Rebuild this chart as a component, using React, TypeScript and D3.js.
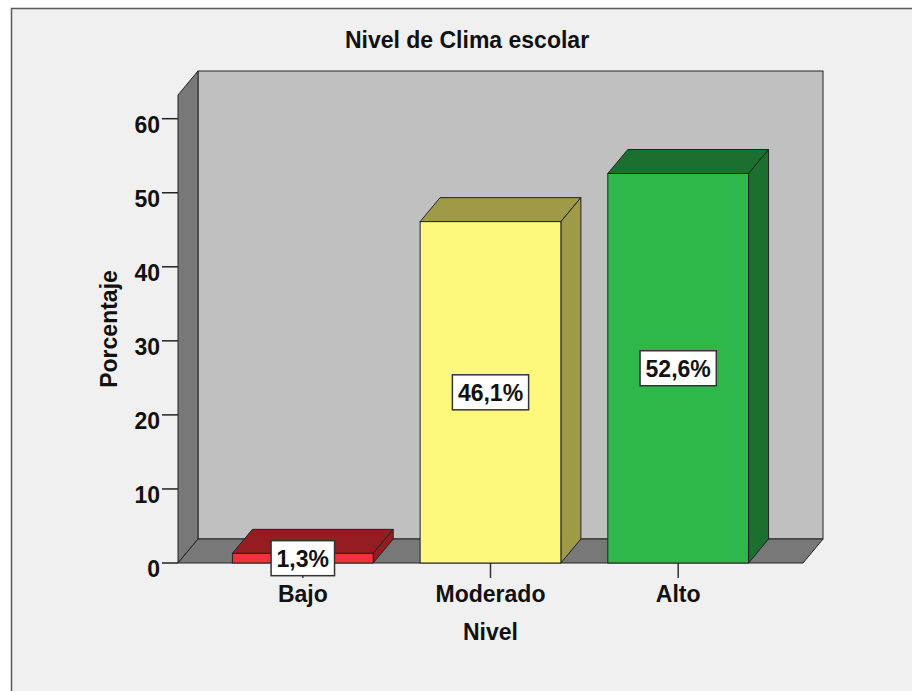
import React, { useEffect, useRef } from "react";
import * as d3 from "d3";

const categories = ["Bajo", "Moderado", "Alto"];
const values = [1.3, 46.1, 52.6];
const valueLabels = ["1,3%", "46,1%", "52,6%"];
const frontColors = ["#f0333a", "#fdf87b", "#2eb84b"];
const darkColors = ["#951d21", "#9f9a48", "#1b702f"];
const yTicks = [0, 10, 20, 30, 40, 50, 60];

const W = 912;
const H = 691;
const FONT = "'Liberation Sans', Arial, sans-serif";

export default function App() {
  const svgRef = useRef<SVGSVGElement>(null);

  useEffect(() => {
    const svg = d3.select(svgRef.current);
    svg.selectAll("*").remove();

    // plot box (front plane) and depth offset
    const left = 178;
    const right = 803;
    const bottom = 563;
    const top = 95;
    const dx = 20;
    const dy = 24;

    const y = d3.scaleLinear().domain([0, 63.2]).range([bottom, top]);
    const x = d3
      .scaleBand()
      .domain(categories)
      .range([left, right])
      .paddingInner(0.25)
      .paddingOuter(0.29);

    // frame
    svg
      .append("rect")
      .attr("x", 11.5)
      .attr("y", 8.5)
      .attr("width", W + 20)
      .attr("height", H + 20)
      .attr("fill", "#f0f0f0")
      .attr("stroke", "#5a5a5a")
      .attr("stroke-width", 1.5);

    const g = svg.append("g");
    const edge = "#222";

    // back wall
    g.append("rect")
      .attr("x", left + dx)
      .attr("y", top - dy)
      .attr("width", right - left)
      .attr("height", bottom - top)
      .attr("fill", "#c0c0c0")
      .attr("stroke", edge);

    // left wall
    g.append("polygon")
      .attr(
        "points",
        [
          [left, bottom],
          [left, top],
          [left + dx, top - dy],
          [left + dx, bottom - dy],
        ].join(" ")
      )
      .attr("fill", "#787878")
      .attr("stroke", edge)
      .attr("stroke-linejoin", "round");

    // floor
    g.append("polygon")
      .attr(
        "points",
        [
          [left, bottom],
          [right, bottom],
          [right + dx, bottom - dy],
          [left + dx, bottom - dy],
        ].join(" ")
      )
      .attr("fill", "#787878")
      .attr("stroke", edge)
      .attr("stroke-linejoin", "round");

    // y axis ticks
    const yAxis = g.append("g");
    yTicks.forEach((t) => {
      yAxis
        .append("line")
        .attr("x1", left - 16)
        .attr("x2", left)
        .attr("y1", y(t))
        .attr("y2", y(t))
        .attr("stroke", "#222")
        .attr("stroke-width", 1.5);
      yAxis
        .append("text")
        .attr("x", left - 18)
        .attr("y", y(t) + 14)
        .attr("text-anchor", "end")
        .attr("font-family", FONT)
        .attr("font-weight", "bold")
        .attr("font-size", 23)
        .attr("fill", "#111")
        .text(t);
    });

    // x axis ticks
    categories.forEach((c) => {
      const cx = (x(c) as number) + x.bandwidth() / 2;
      g.append("line")
        .attr("x1", cx)
        .attr("x2", cx)
        .attr("y1", bottom)
        .attr("y2", bottom + 15)
        .attr("stroke", "#333")
        .attr("stroke-width", 1.5);
      g.append("text")
        .attr("x", cx)
        .attr("y", 602)
        .attr("text-anchor", "middle")
        .attr("font-family", FONT)
        .attr("font-weight", "bold")
        .attr("font-size", 23)
        .attr("fill", "#111")
        .text(c);
    });

    // bars
    const bw = x.bandwidth();
    categories.forEach((c, i) => {
      const x0 = x(c) as number;
      const yv = y(values[i]);
      const y0 = y(0);
      const bar = g.append("g");
      bar
        .append("polygon")
        .attr(
          "points",
          [
            [x0, yv],
            [x0 + dx, yv - dy],
            [x0 + bw + dx, yv - dy],
            [x0 + bw, yv],
          ].join(" ")
        )
        .attr("fill", darkColors[i])
        .attr("stroke", edge)
        .attr("stroke-linejoin", "round");
      bar
        .append("polygon")
        .attr(
          "points",
          [
            [x0 + bw, yv],
            [x0 + bw + dx, yv - dy],
            [x0 + bw + dx, y0 - dy],
            [x0 + bw, y0],
          ].join(" ")
        )
        .attr("fill", darkColors[i])
        .attr("stroke", edge)
        .attr("stroke-linejoin", "round");
      bar
        .append("rect")
        .attr("x", x0)
        .attr("y", yv)
        .attr("width", bw)
        .attr("height", y0 - yv)
        .attr("fill", frontColors[i])
        .attr("stroke", edge);
    });

    // value labels
    categories.forEach((c, i) => {
      const cx = (x(c) as number) + bw / 2;
      const cy = y(values[i] / 2);
      const lg = g.append("g");
      const rect = lg.append("rect");
      const txt = lg
        .append("text")
        .attr("x", cx)
        .attr("y", cy + 8.5)
        .attr("text-anchor", "middle")
        .attr("font-family", FONT)
        .attr("font-weight", "bold")
        .attr("font-size", 23)
        .attr("fill", "#111")
        .text(valueLabels[i]);
      const tw = (txt.node() as SVGTextElement).getComputedTextLength();
      rect
        .attr("x", cx - tw / 2 - 5.5)
        .attr("y", cy - 17.5)
        .attr("width", tw + 11)
        .attr("height", 35)
        .attr("fill", "#fff")
        .attr("stroke", "#333")
        .attr("stroke-width", 1.5);
    });

    // title and axis titles
    svg
      .append("text")
      .attr("x", 467)
      .attr("y", 48)
      .attr("text-anchor", "middle")
      .attr("font-family", FONT)
      .attr("font-weight", "bold")
      .attr("font-size", 23)
      .attr("fill", "#111")
      .text("Nivel de Clima escolar");

    svg
      .append("text")
      .attr("x", (left + right) / 2)
      .attr("y", 640)
      .attr("text-anchor", "middle")
      .attr("font-family", FONT)
      .attr("font-weight", "bold")
      .attr("font-size", 23)
      .attr("fill", "#111")
      .text("Nivel");

    svg
      .append("text")
      .attr("transform", `translate(117,${(top + bottom) / 2}) rotate(-90)`)
      .attr("text-anchor", "middle")
      .attr("font-family", FONT)
      .attr("font-weight", "bold")
      .attr("font-size", 23)
      .attr("fill", "#111")
      .text("Porcentaje");
  }, []);

  return (
    <svg
      ref={svgRef}
      width={W}
      height={H}
      style={{ position: "absolute", left: 0, top: 0, background: "#fff" }}
    />
  );
}
